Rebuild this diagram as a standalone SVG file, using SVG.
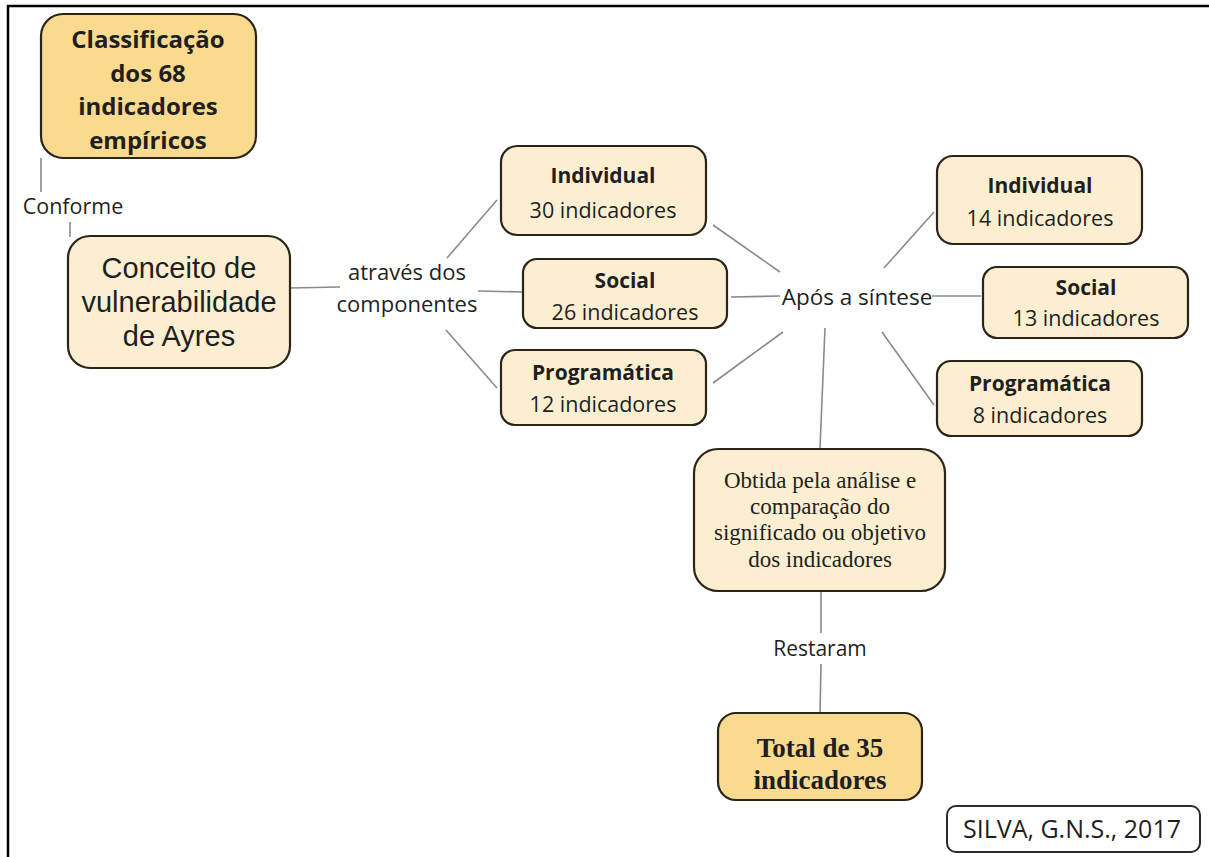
<svg xmlns="http://www.w3.org/2000/svg" width="1209" height="857" viewBox="0 0 1209 857">
<style>
.box{stroke:#2b2418;stroke-width:2.2}
.gold{fill:#F9DA8F}
.light{fill:#FCEFD1}
.t{font-family:"Open Sans","Liberation Sans",Arial,sans-serif;fill:#1f1f1f;text-anchor:middle}
.a{font-family:"Liberation Sans",Arial,sans-serif;fill:#1f1f1f;text-anchor:middle}
.b{font-weight:bold}
.s{font-family:"Liberation Serif","Times New Roman",serif;fill:#1f1f1f;text-anchor:middle}
.c{stroke:#8a8a8a;stroke-width:1.6;fill:none}
</style>
<rect width="1209" height="857" fill="#fff"/>
<path d="M8 857 V6 H1209" fill="none" stroke="#000" stroke-width="2.5"/>
<g id="connectors">
<line class="c" x1="41" y1="158" x2="41" y2="192"/>
<line class="c" x1="70" y1="222" x2="70" y2="237"/>
<line class="c" x1="290" y1="288" x2="340" y2="287"/>
<line class="c" x1="447" y1="258" x2="497" y2="200"/>
<line class="c" x1="478" y1="291" x2="523" y2="292"/>
<line class="c" x1="446" y1="330" x2="497" y2="388"/>
<line class="c" x1="713" y1="225" x2="780" y2="272"/>
<line class="c" x1="731" y1="297" x2="780" y2="296"/>
<line class="c" x1="713" y1="383" x2="783" y2="332"/>
<line class="c" x1="884" y1="268" x2="934" y2="212"/>
<line class="c" x1="932" y1="296" x2="981" y2="296"/>
<line class="c" x1="882" y1="332" x2="934" y2="405"/>
<line class="c" x1="825" y1="328" x2="820" y2="448"/>
<line class="c" x1="821" y1="591" x2="821" y2="633"/>
<line class="c" x1="821" y1="664" x2="820" y2="713"/>
</g>
<g id="n-classificacao">
<rect class="box gold" x="41" y="14" width="215" height="144" rx="22"/>
<text class="t b" font-size="24" x="148" y="48">Classificação</text>
<text class="t b" font-size="24" x="148" y="82">dos 68</text>
<text class="t b" font-size="24" x="148" y="115">indicadores</text>
<text class="t b" font-size="24" x="148" y="149">empíricos</text>
</g>
<g id="l-conforme"><text class="t" font-size="21.5" x="73" y="214">Conforme</text></g>
<g id="n-conceito">
<rect class="box light" x="68" y="236" width="222" height="132" rx="22"/>
<text class="a" font-size="29" x="179" y="278">Conceito de</text>
<text class="a" font-size="29" x="179" y="312">vulnerabilidade</text>
<text class="a" font-size="29" x="179" y="346">de Ayres</text>
</g>
<g id="l-atraves">
<text class="t" font-size="22" x="407" y="280">através dos</text>
<text class="t" font-size="22" x="407" y="312">componentes</text>
</g>
<g id="n-ind1">
<rect class="box light" x="501" y="146" width="205" height="89" rx="16"/>
<text class="t b" font-size="21" x="603" y="183">Individual</text>
<text class="t" font-size="21.5" x="603" y="218">30 indicadores</text>
</g>
<g id="n-soc1">
<rect class="box light" x="523" y="259" width="204" height="69" rx="14"/>
<text class="t b" font-size="21" x="625" y="288">Social</text>
<text class="t" font-size="21.5" x="625" y="320">26 indicadores</text>
</g>
<g id="n-prog1">
<rect class="box light" x="501" y="350" width="205" height="75" rx="14"/>
<text class="t b" font-size="21" x="603" y="380">Programática</text>
<text class="t" font-size="21.5" x="603" y="412">12 indicadores</text>
</g>
<g id="l-apos"><text class="t" font-size="22.5" x="857" y="305">Após a síntese</text></g>
<g id="n-ind2">
<rect class="box light" x="937" y="156" width="205" height="88" rx="16"/>
<text class="t b" font-size="21" x="1040" y="193">Individual</text>
<text class="t" font-size="21.5" x="1040" y="226">14 indicadores</text>
</g>
<g id="n-soc2">
<rect class="box light" x="983" y="267" width="205" height="71" rx="14"/>
<text class="t b" font-size="21" x="1086" y="295">Social</text>
<text class="t" font-size="21.5" x="1086" y="326">13 indicadores</text>
</g>
<g id="n-prog2">
<rect class="box light" x="937" y="361" width="205" height="75" rx="14"/>
<text class="t b" font-size="21" x="1040" y="391">Programática</text>
<text class="t" font-size="21.5" x="1040" y="423">8 indicadores</text>
</g>
<g id="n-obtida">
<rect class="box light" x="694" y="449" width="251" height="142" rx="24"/>
<text class="s" font-size="23" x="820" y="488">Obtida pela análise e</text>
<text class="s" font-size="23" x="820" y="514">comparação do</text>
<text class="s" font-size="23" x="820" y="540">significado ou objetivo</text>
<text class="s" font-size="23" x="820" y="567">dos indicadores</text>
</g>
<g id="l-restaram"><text class="t" font-size="21" x="820" y="656">Restaram</text></g>
<g id="n-total">
<rect class="box gold" x="718" y="713" width="204" height="87" rx="18"/>
<text class="s b" font-size="27" x="820" y="757">Total de 35</text>
<text class="s b" font-size="27" x="820" y="789">indicadores</text>
</g>
<g id="n-silva">
<rect x="947" y="806" width="253" height="46" rx="9" fill="#fff" stroke="#2b2b2b" stroke-width="2"/>
<text class="t" font-size="25" x="1072" y="838">SILVA, G.N.S., 2017</text>
</g>
</svg>
